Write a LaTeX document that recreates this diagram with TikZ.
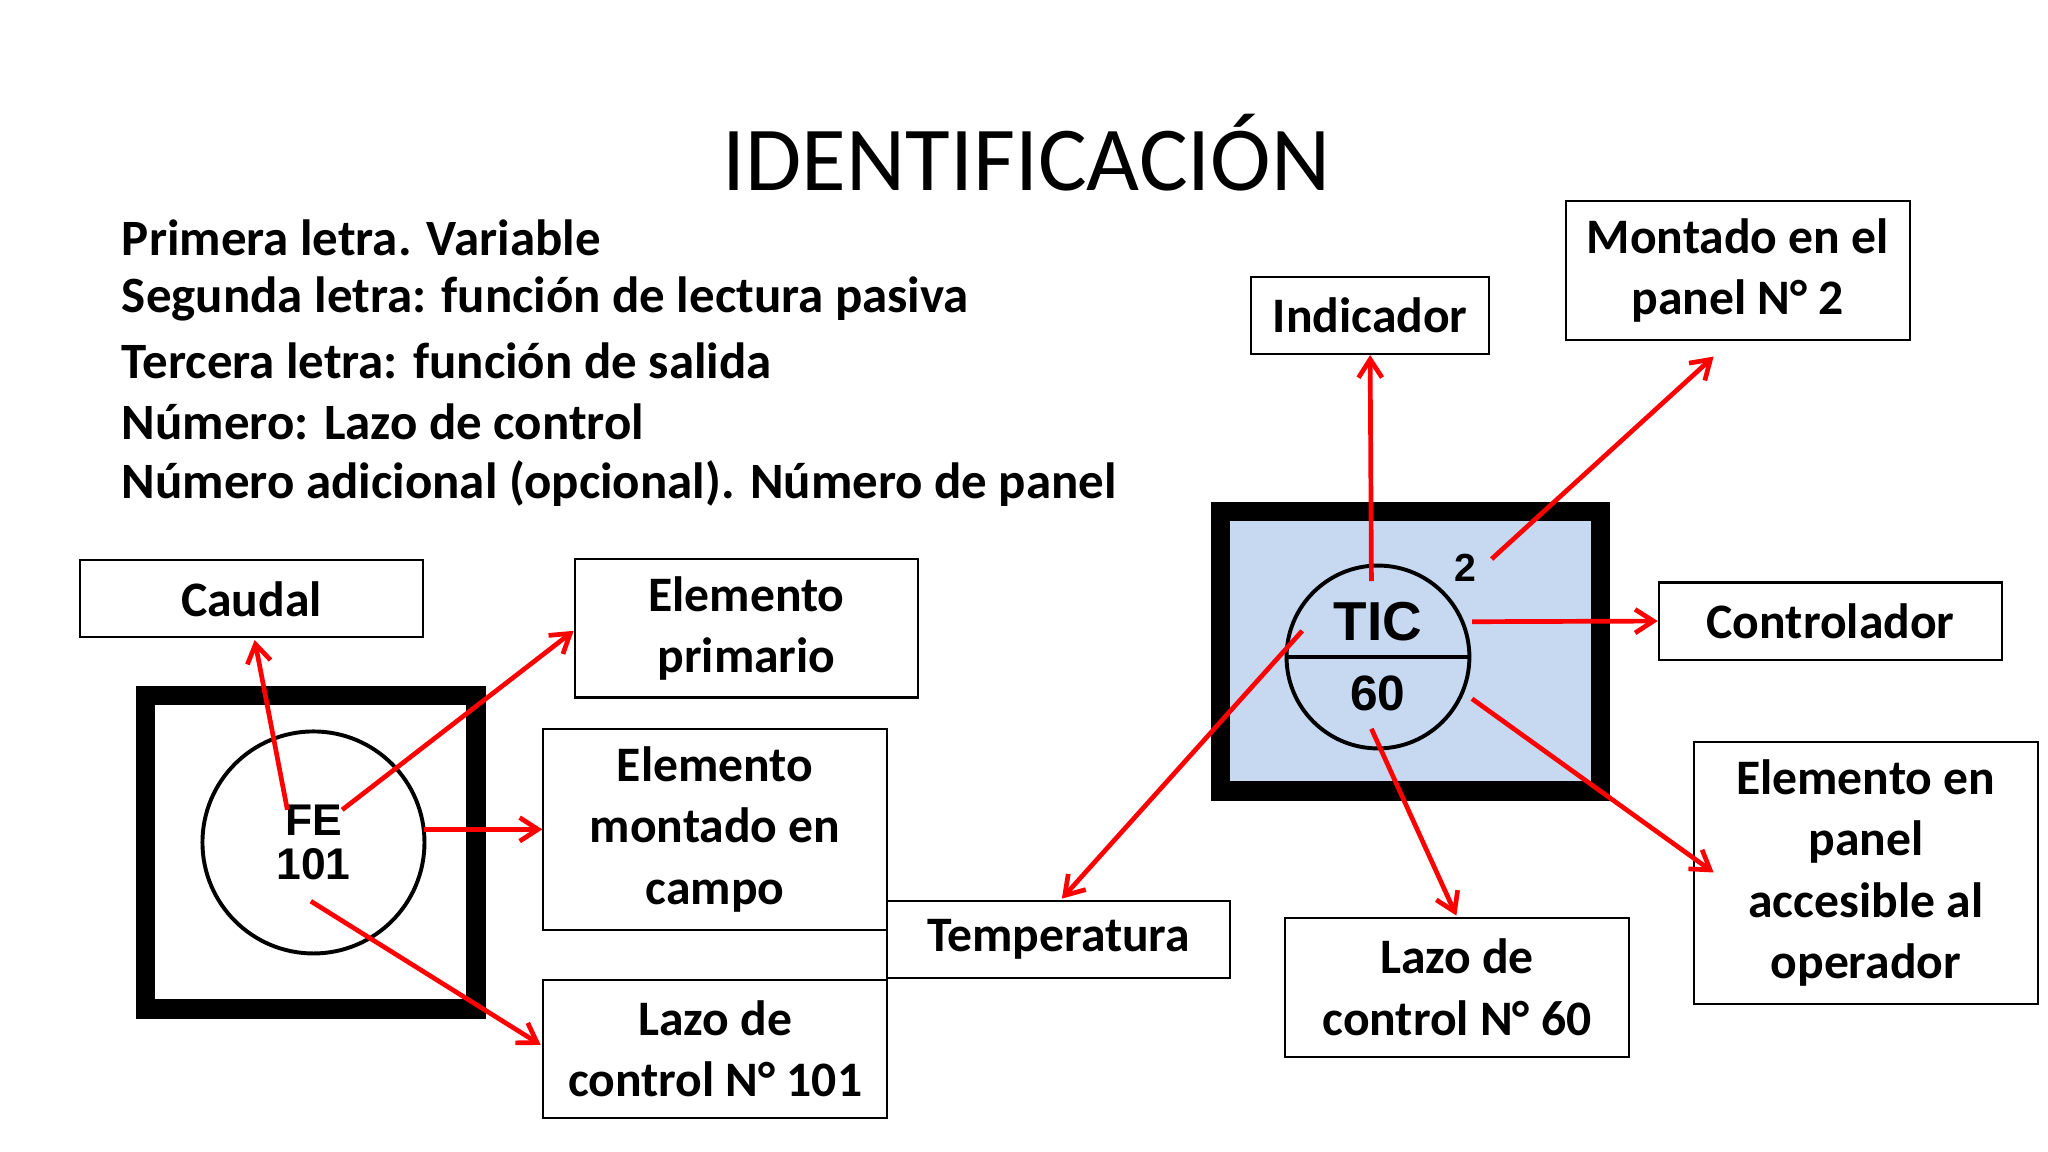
\documentclass[tikz,border=0pt]{standalone}
\usepackage{fontspec}
\setmainfont{Carlito}
\newfontfamily\instfont{Liberation Sans}
\usetikzlibrary{arrows.meta}
\begin{document}
\begin{tikzpicture}[x=0.5pt,y=-0.5pt,
  lbl/.style={draw,line width=0.8pt,align=center,font=\fontsize{19}{23.5}\selectfont\bfseries,inner sep=0pt},
  arr/.style={draw=red,line width=1.8pt,-{Straight Barb[length=7pt,width=9pt,line width=1.8pt]}},
  frame/.style={draw=black,line width=7.5pt}]
\useasboundingbox[fill=white] (0,0) rectangle (1568,882);
\node[font=\fontsize{35}{40}\selectfont] (title) at (786,117) {IDENTIFICACIÓN};
\begin{scope}[font=\fontsize{19.5}{23}\selectfont\bfseries]
\node[anchor=west,inner sep=0pt] (l1) at (93,182) {Primera letra. Variable};
\node[anchor=west,inner sep=0pt] (l2) at (93,229) {Segunda letra: función de lectura pasiva};
\node[anchor=west,inner sep=0pt] (l3) at (93,276) {Tercera letra: función de salida};
\node[anchor=west,inner sep=0pt] (l4) at (93,323) {Número: Lazo de control};
\node[anchor=west,inner sep=0pt] (l5) at (93,370) {Número adicional (opcional). Número de panel};
\end{scope}
% boxes
\node[lbl,minimum width=131.5pt,minimum height=29.5pt] (caudal) at (192.5,458.5) {Caudal};
\node[lbl,minimum width=131.5pt,minimum height=53pt] (prim) at (571.5,481) {Elemento\\primario};
\node[lbl,minimum width=131.5pt,minimum height=77pt] (campo) at (547.5,635) {Elemento\\montado en\\campo};
\node[lbl,minimum width=131.5pt,minimum height=53pt] (lazo1) at (547.5,803) {Lazo de\\control N° 101};
\node[lbl,minimum width=131.5pt,minimum height=29.5pt] (temp) at (810.5,719.5) {Temperatura};
\node[lbl,minimum width=91pt,minimum height=29.5pt] (ind) at (1049,241.5) {Indicador};
\node[lbl,minimum width=131.5pt,minimum height=53pt] (mont) at (1330.5,207) {Montado en el\\panel N° 2};
\node[lbl,minimum width=131.5pt,minimum height=29.5pt] (ctrl) at (1401.5,475.5) {Controlador};
\node[lbl,minimum width=131.5pt,minimum height=100.5pt] (acc) at (1428.5,668.5) {Elemento en\\panel\\accesible al\\operador};
\node[lbl,minimum width=131.5pt,minimum height=53pt] (lazo2) at (1115.5,756) {Lazo de\\control N° 60};
% left instrument
\path[frame] (111.5,532.5) rectangle (364.5,772.5);
\node[draw,circle,line width=1.5pt,minimum size=85pt] (fe) at (240,645) {};
\node[font=\instfont\fontsize{17}{18}\selectfont\bfseries,align=center] (fet) at (240,645) {FE\\[-1pt]101};
% right instrument
\path[frame,fill={rgb,255:red,198;green,217;blue,241}] (934.5,391.5) rectangle (1225.5,605.5);
\node[draw,circle,line width=1.5pt,minimum size=70pt] (tic) at (1055,503) {};
\draw[line width=1.5pt] (tic.west) -- (tic.east);
\node[font=\instfont\fontsize{21}{22}\selectfont\bfseries] (tict) at (1055,476) {TIC};
\node[font=\instfont\fontsize{19}{20}\selectfont\bfseries] (sixty) at (1055,531) {60};
\node[font=\instfont\fontsize{15}{16}\selectfont\bfseries] (two) at (1122,435) {2};
% arrows
\coordinate (a1) at (220,620); \coordinate (a2) at (262,620);
\coordinate (a3) at (325,635); \coordinate (a4) at (238,690);
\draw[arr] (a1) -- (195,490) coordinate (e1);
\draw[arr] (a2) -- (prim.west|-0,483);
\draw[arr] (a3) -- (campo.west);
\draw[arr] (a4) -- (414,800);
\draw[arr] (1050,445) -- (ind.south);
\draw[arr] (1142,428) -- (1312,273);
\draw[arr] (1127,476) -- (ctrl.west);
\draw[arr] (997,483) -- (813,688);
\draw[arr] (1050,558) -- (1115,701);
\draw[arr] (1127,535) -- (1312,668);
\end{tikzpicture}
\end{document}
